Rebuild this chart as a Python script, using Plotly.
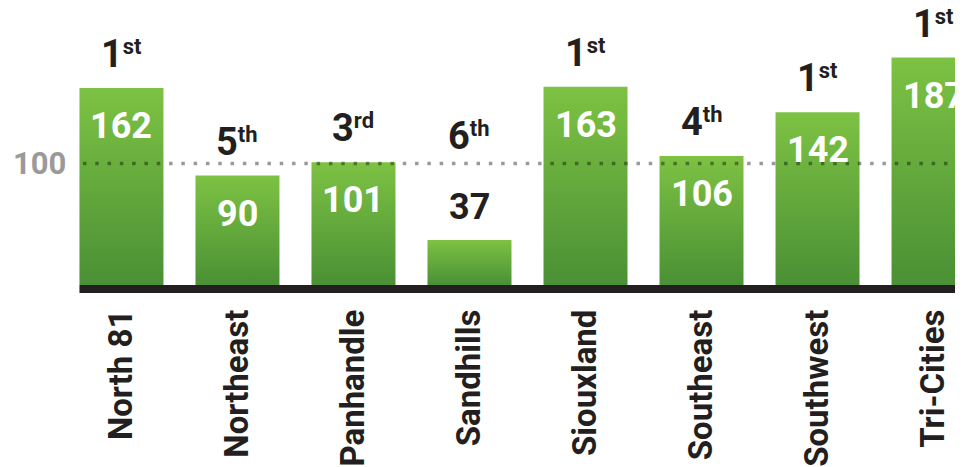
import plotly.graph_objects as go

categories = ["North 81", "Northeast", "Panhandle", "Sandhills",
              "Siouxland", "Southeast", "Southwest", "Tri-Cities"]
values = [162, 90, 101, 37, 163, 106, 142, 187]
rank_numbers = ["1", "5", "3", "6", "1", "4", "1", "1"]
rank_suffixes = ["st", "th", "rd", "th", "st", "th", "st", "st"]
reference_value = 100
reference_label = "100"

FONT = "Roboto, 'Open Sans', sans-serif"
DARK = "#231f20"
BAR_HALF = 0.362
PX_PER_UNIT = 1.225
AXIS_PX = 8
W, H = 955, 459
PLOT_H = 287
Y_MIN = -AXIS_PX / PX_PER_UNIT
Y_MAX = Y_MIN + PLOT_H / PX_PER_UNIT
INSIDE_MIN = 60

fig = go.Figure()

for i, (cat, v) in enumerate(zip(categories, values)):
    fig.add_trace(go.Scatter(
        x=[i - BAR_HALF, i + BAR_HALF, i + BAR_HALF, i - BAR_HALF, i - BAR_HALF],
        y=[0, 0, v, v, 0],
        fill="toself", mode="lines",
        line=dict(width=0, color="rgba(0,0,0,0)"),
        fillgradient=dict(type="vertical",
                          colorscale=[[0, "#4a9035"], [1, "#7dc243"]]),
        name=cat, hoverinfo="skip", showlegend=False,
    ))

shapes = [
    dict(type="rect", xref="x", yref="y", x0=-BAR_HALF, x1=len(values) + 1,
         y0=Y_MIN, y1=0, fillcolor=DARK, line=dict(width=0), layer="above"),
    dict(type="line", xref="x", yref="y", x0=-BAR_HALF + 0.03, x1=len(values) + 1,
         y0=reference_value, y1=reference_value,
         line=dict(color="rgba(0,0,0,0.4)", width=3.5, dash="3.5px,8.8px"),
         layer="above"),
]

annotations = []
for i, v in enumerate(values):
    inside = v >= INSIDE_MIN
    annotations.append(dict(
        x=i, y=v, xref="x", yref="y", text=str(v), showarrow=False,
        xanchor="center", yanchor="top" if inside else "bottom",
        yshift=-15 if inside else 10,
        font=dict(family=FONT, size=36, color="white" if inside else DARK,
                  weight="bold"),
    ))
    annotations.append(dict(
        x=i, y=v, xref="x", yref="y",
        text=(f'<span style="font-size:38px">{rank_numbers[i]}</span>'
              f'<sup><span style="font-size:22px">{rank_suffixes[i]}</span></sup>'),
        showarrow=False, xanchor="center", yanchor="bottom",
        yshift=10 if inside else 80,
        font=dict(family=FONT, size=31, color=DARK, weight="bold"),
    ))

annotations.append(dict(
    x=0, y=reference_value, xref="paper", yref="y", text=reference_label,
    showarrow=False, xanchor="left", yanchor="middle", xshift=3,
    font=dict(family=FONT, size=31, color="#9a9a9a", weight="bold"),
))

fig.update_layout(
    width=W, height=H,
    margin=dict(l=0, r=0, t=0, b=H - PLOT_H),
    paper_bgcolor="white", plot_bgcolor="white",
    shapes=shapes, annotations=annotations, showlegend=False,
    xaxis=dict(range=[-0.978, 7.254], tickmode="array",
               tickvals=list(range(len(categories))), ticktext=categories,
               tickangle=-90, ticks="", showgrid=False, zeroline=False,
               showline=False, ticklabelstandoff=9,
               tickfont=dict(family=FONT, size=33, color=DARK, weight="bold")),
    yaxis=dict(range=[Y_MIN, Y_MAX], visible=False, showgrid=False,
               zeroline=False),
)

fig.write_html("out.html")
